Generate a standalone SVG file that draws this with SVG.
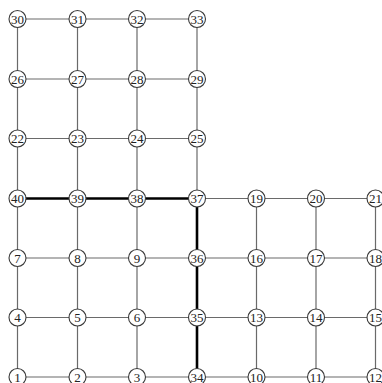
<svg xmlns="http://www.w3.org/2000/svg" width="382" height="383" viewBox="0 0 382 383">
<style>
.e{stroke:#6a6a6a;stroke-width:1.2;fill:none}
.t{stroke:#000;stroke-width:2.6;fill:none}
circle{fill:#fff;stroke:#3a3a3a;stroke-width:1.1}
text{font-family:"Liberation Serif","Times New Roman",serif;font-size:13px;fill:#222;text-anchor:middle}
</style>
<rect width="382" height="383" fill="#fff"/>
<g id="connectors">
<line class="e" x1="17.5" y1="19" x2="77.5" y2="19"/>
<line class="e" x1="77.5" y1="19" x2="137" y2="19"/>
<line class="e" x1="137" y1="19" x2="197" y2="19"/>
<line class="e" x1="17.5" y1="79" x2="77.5" y2="79"/>
<line class="e" x1="77.5" y1="79" x2="137" y2="79"/>
<line class="e" x1="137" y1="79" x2="197" y2="79"/>
<line class="e" x1="17.5" y1="138.5" x2="77.5" y2="138.5"/>
<line class="e" x1="77.5" y1="138.5" x2="137" y2="138.5"/>
<line class="e" x1="137" y1="138.5" x2="197" y2="138.5"/>
<line class="t" x1="17.5" y1="198.5" x2="77.5" y2="198.5"/>
<line class="t" x1="77.5" y1="198.5" x2="137" y2="198.5"/>
<line class="t" x1="137" y1="198.5" x2="197" y2="198.5"/>
<line class="e" x1="197" y1="198.5" x2="256.5" y2="198.5"/>
<line class="e" x1="256.5" y1="198.5" x2="316" y2="198.5"/>
<line class="e" x1="316" y1="198.5" x2="375.5" y2="198.5"/>
<line class="e" x1="17.5" y1="258" x2="77.5" y2="258"/>
<line class="e" x1="77.5" y1="258" x2="137" y2="258"/>
<line class="e" x1="137" y1="258" x2="197" y2="258"/>
<line class="e" x1="197" y1="258" x2="256.5" y2="258"/>
<line class="e" x1="256.5" y1="258" x2="316" y2="258"/>
<line class="e" x1="316" y1="258" x2="375.5" y2="258"/>
<line class="e" x1="17.5" y1="317.5" x2="77.5" y2="317.5"/>
<line class="e" x1="77.5" y1="317.5" x2="137" y2="317.5"/>
<line class="e" x1="137" y1="317.5" x2="197" y2="317.5"/>
<line class="e" x1="197" y1="317.5" x2="256.5" y2="317.5"/>
<line class="e" x1="256.5" y1="317.5" x2="316" y2="317.5"/>
<line class="e" x1="316" y1="317.5" x2="375.5" y2="317.5"/>
<line class="e" x1="17.5" y1="377" x2="77.5" y2="377"/>
<line class="e" x1="77.5" y1="377" x2="137" y2="377"/>
<line class="e" x1="137" y1="377" x2="197" y2="377"/>
<line class="e" x1="197" y1="377" x2="256.5" y2="377"/>
<line class="e" x1="256.5" y1="377" x2="316" y2="377"/>
<line class="e" x1="316" y1="377" x2="375.5" y2="377"/>
<line class="e" x1="17.5" y1="19" x2="17.5" y2="79"/>
<line class="e" x1="17.5" y1="79" x2="17.5" y2="138.5"/>
<line class="e" x1="17.5" y1="138.5" x2="17.5" y2="198.5"/>
<line class="e" x1="17.5" y1="198.5" x2="17.5" y2="258"/>
<line class="e" x1="17.5" y1="258" x2="17.5" y2="317.5"/>
<line class="e" x1="17.5" y1="317.5" x2="17.5" y2="377"/>
<line class="e" x1="77.5" y1="19" x2="77.5" y2="79"/>
<line class="e" x1="77.5" y1="79" x2="77.5" y2="138.5"/>
<line class="e" x1="77.5" y1="138.5" x2="77.5" y2="198.5"/>
<line class="e" x1="77.5" y1="198.5" x2="77.5" y2="258"/>
<line class="e" x1="77.5" y1="258" x2="77.5" y2="317.5"/>
<line class="e" x1="77.5" y1="317.5" x2="77.5" y2="377"/>
<line class="e" x1="137" y1="19" x2="137" y2="79"/>
<line class="e" x1="137" y1="79" x2="137" y2="138.5"/>
<line class="e" x1="137" y1="138.5" x2="137" y2="198.5"/>
<line class="e" x1="137" y1="198.5" x2="137" y2="258"/>
<line class="e" x1="137" y1="258" x2="137" y2="317.5"/>
<line class="e" x1="137" y1="317.5" x2="137" y2="377"/>
<line class="e" x1="197" y1="19" x2="197" y2="79"/>
<line class="e" x1="197" y1="79" x2="197" y2="138.5"/>
<line class="e" x1="197" y1="138.5" x2="197" y2="198.5"/>
<line class="t" x1="197" y1="198.5" x2="197" y2="258"/>
<line class="t" x1="197" y1="258" x2="197" y2="317.5"/>
<line class="t" x1="197" y1="317.5" x2="197" y2="377"/>
<line class="e" x1="256.5" y1="198.5" x2="256.5" y2="258"/>
<line class="e" x1="256.5" y1="258" x2="256.5" y2="317.5"/>
<line class="e" x1="256.5" y1="317.5" x2="256.5" y2="377"/>
<line class="e" x1="316" y1="198.5" x2="316" y2="258"/>
<line class="e" x1="316" y1="258" x2="316" y2="317.5"/>
<line class="e" x1="316" y1="317.5" x2="316" y2="377"/>
<line class="e" x1="375.5" y1="198.5" x2="375.5" y2="258"/>
<line class="e" x1="375.5" y1="258" x2="375.5" y2="317.5"/>
<line class="e" x1="375.5" y1="317.5" x2="375.5" y2="377"/>
</g>
<g id="n30"><circle cx="17.5" cy="19" r="8.5"/><text x="17.5" y="23.5">30</text></g>
<g id="n31"><circle cx="77.5" cy="19" r="8.5"/><text x="77.5" y="23.5">31</text></g>
<g id="n32"><circle cx="137" cy="19" r="8.5"/><text x="137" y="23.5">32</text></g>
<g id="n33"><circle cx="197" cy="19" r="8.5"/><text x="197" y="23.5">33</text></g>
<g id="n26"><circle cx="17.5" cy="79" r="8.5"/><text x="17.5" y="83.5">26</text></g>
<g id="n27"><circle cx="77.5" cy="79" r="8.5"/><text x="77.5" y="83.5">27</text></g>
<g id="n28"><circle cx="137" cy="79" r="8.5"/><text x="137" y="83.5">28</text></g>
<g id="n29"><circle cx="197" cy="79" r="8.5"/><text x="197" y="83.5">29</text></g>
<g id="n22"><circle cx="17.5" cy="138.5" r="8.5"/><text x="17.5" y="143">22</text></g>
<g id="n23"><circle cx="77.5" cy="138.5" r="8.5"/><text x="77.5" y="143">23</text></g>
<g id="n24"><circle cx="137" cy="138.5" r="8.5"/><text x="137" y="143">24</text></g>
<g id="n25"><circle cx="197" cy="138.5" r="8.5"/><text x="197" y="143">25</text></g>
<g id="n40"><circle cx="17.5" cy="198.5" r="8.5"/><text x="17.5" y="203">40</text></g>
<g id="n39"><circle cx="77.5" cy="198.5" r="8.5"/><text x="77.5" y="203">39</text></g>
<g id="n38"><circle cx="137" cy="198.5" r="8.5"/><text x="137" y="203">38</text></g>
<g id="n37"><circle cx="197" cy="198.5" r="8.5"/><text x="197" y="203">37</text></g>
<g id="n19"><circle cx="256.5" cy="198.5" r="8.5"/><text x="256.5" y="203">19</text></g>
<g id="n20"><circle cx="316" cy="198.5" r="8.5"/><text x="316" y="203">20</text></g>
<g id="n21"><circle cx="375.5" cy="198.5" r="8.5"/><text x="375.5" y="203">21</text></g>
<g id="n7"><circle cx="17.5" cy="258" r="8.5"/><text x="17.5" y="262.5">7</text></g>
<g id="n8"><circle cx="77.5" cy="258" r="8.5"/><text x="77.5" y="262.5">8</text></g>
<g id="n9"><circle cx="137" cy="258" r="8.5"/><text x="137" y="262.5">9</text></g>
<g id="n36"><circle cx="197" cy="258" r="8.5"/><text x="197" y="262.5">36</text></g>
<g id="n16"><circle cx="256.5" cy="258" r="8.5"/><text x="256.5" y="262.5">16</text></g>
<g id="n17"><circle cx="316" cy="258" r="8.5"/><text x="316" y="262.5">17</text></g>
<g id="n18"><circle cx="375.5" cy="258" r="8.5"/><text x="375.5" y="262.5">18</text></g>
<g id="n4"><circle cx="17.5" cy="317.5" r="8.5"/><text x="17.5" y="322">4</text></g>
<g id="n5"><circle cx="77.5" cy="317.5" r="8.5"/><text x="77.5" y="322">5</text></g>
<g id="n6"><circle cx="137" cy="317.5" r="8.5"/><text x="137" y="322">6</text></g>
<g id="n35"><circle cx="197" cy="317.5" r="8.5"/><text x="197" y="322">35</text></g>
<g id="n13"><circle cx="256.5" cy="317.5" r="8.5"/><text x="256.5" y="322">13</text></g>
<g id="n14"><circle cx="316" cy="317.5" r="8.5"/><text x="316" y="322">14</text></g>
<g id="n15"><circle cx="375.5" cy="317.5" r="8.5"/><text x="375.5" y="322">15</text></g>
<g id="n1"><circle cx="17.5" cy="377" r="8.5"/><text x="17.5" y="381.5">1</text></g>
<g id="n2"><circle cx="77.5" cy="377" r="8.5"/><text x="77.5" y="381.5">2</text></g>
<g id="n3"><circle cx="137" cy="377" r="8.5"/><text x="137" y="381.5">3</text></g>
<g id="n34"><circle cx="197" cy="377" r="8.5"/><text x="197" y="381.5">34</text></g>
<g id="n10"><circle cx="256.5" cy="377" r="8.5"/><text x="256.5" y="381.5">10</text></g>
<g id="n11"><circle cx="316" cy="377" r="8.5"/><text x="316" y="381.5">11</text></g>
<g id="n12"><circle cx="375.5" cy="377" r="8.5"/><text x="375.5" y="381.5">12</text></g>
</svg>
